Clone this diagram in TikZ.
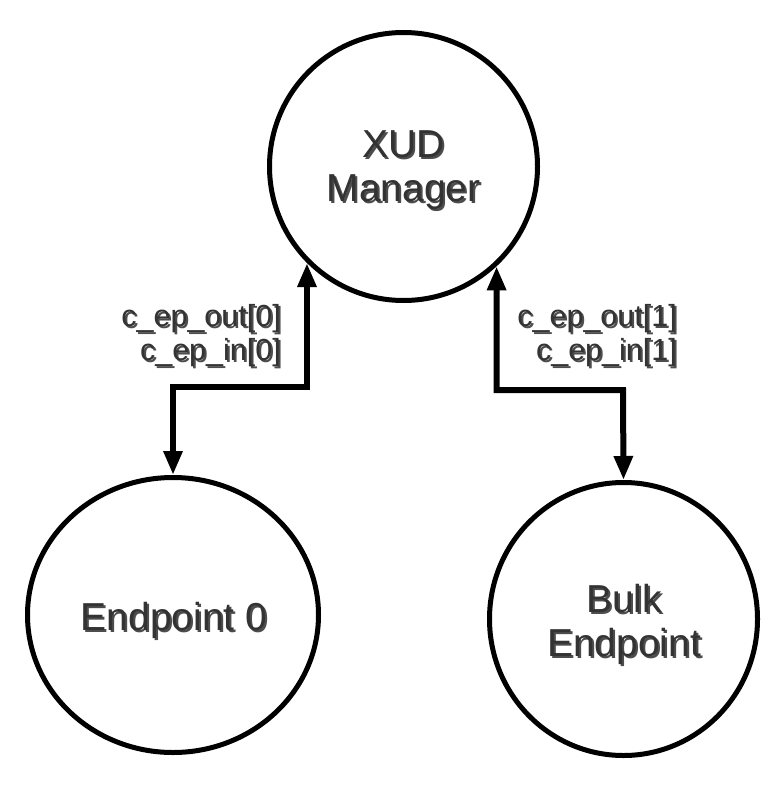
\documentclass[tikz,border=0pt]{standalone}
\usepackage{fontspec}
\setmainfont{Liberation Sans}
\usetikzlibrary{shapes.geometric,arrows.meta}
\definecolor{txt}{HTML}{333333}
\definecolor{shd}{HTML}{4D4D4D}
\newcommand\shtxt[1]{\rlap{\hspace{2pt}\raisebox{-2pt}{\color{shd}#1}}#1}
\begin{document}
\begin{tikzpicture}[x=1pt,y=-1pt,
  bub/.style={draw=black,line width=5pt,ellipse,inner sep=0pt},
  conn/.style={line width=6pt,{Triangle[length=24pt,width=18pt]}-{Triangle[length=24pt,width=18pt]}},
  big/.style={font=\fontsize{39}{44}\selectfont,align=center,text=txt,inner sep=0pt},
  small/.style={font=\fontsize{30.5}{34}\selectfont,align=right,text=txt,inner sep=0pt,anchor=east}]
\useasboundingbox (0,0) rectangle (783,789);
% bubbles
\node[bub,minimum width=268pt,minimum height=268pt] (xud) at (403.5,166.5) {};
\node[bub,minimum width=291pt,minimum height=275pt] (ep0) at (173,615) {};
\node[bub,minimum width=268pt,minimum height=273pt] (bulk) at (623.5,619) {};
% texts
\node[big] (xudT) at (403.5,171.5) {\shtxt{XUD}\\\shtxt{Manager}};
\node[big,anchor=base] (ep0T) at (174,630) {\shtxt{Endpoint 0}};
\node[big] (bulkT) at (624,625) {\shtxt{Bulk}\\\shtxt{Endpoint}};
% connectors
\coordinate (c0) at (173,387);
\coordinate (c1) at (623,390);
\draw[conn] (xud.225) |- (c0) -- (ep0.north);
\draw[conn] (xud.313) |- (c1) -- (bulk.north);
% labels
\node[small] (l0T) at (281,337) {\shtxt{c\_ep\_out[0]}\\\shtxt{c\_ep\_in[0]}};
\node[small] (l1T) at (677,337) {\shtxt{c\_ep\_out[1]}\\\shtxt{c\_ep\_in[1]}};
\end{tikzpicture}
\end{document}
